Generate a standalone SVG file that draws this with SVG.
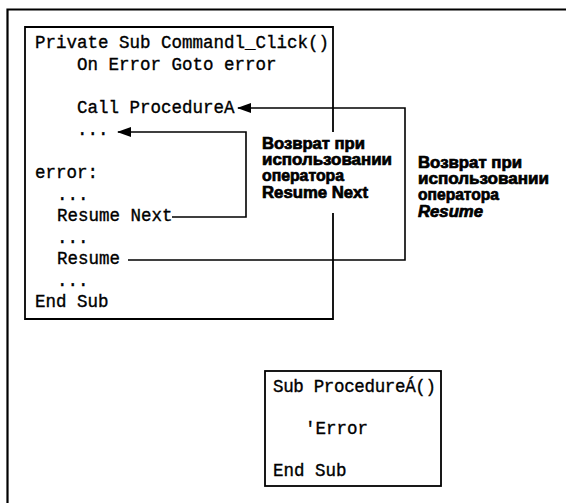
<svg xmlns="http://www.w3.org/2000/svg" width="566" height="503" viewBox="0 0 566 503">
<defs>
<marker id="ah" markerWidth="14" markerHeight="10" refX="13" refY="5" orient="auto" markerUnits="userSpaceOnUse">
<path d="M0,0 L14,5 L0,10 Z" fill="#000"/>
</marker>
<style>
.code{font-family:"Liberation Mono","Courier New",monospace;font-size:17.5px;fill:#000;stroke:#000;stroke-width:0.35}
.note{font-family:"Liberation Sans",Arial,sans-serif;font-size:16px;font-weight:bold;fill:#000;stroke:#000;stroke-width:0.7}
.box{fill:none;stroke:#000;stroke-width:1.8}
.conn{fill:none;stroke:#000;stroke-width:1.6}
</style>
</defs>
<rect width="566" height="503" fill="#fff"/>
<g id="frame"><path d="M7.5,503 V9.5 H566" fill="none" stroke="#000" stroke-width="2.2"/></g>
<g id="main">
<path class="box" d="M333,132 V27 H25 V319 H333 V213"/>
<text class="code" x="35" y="48">Private Sub Commandl_Click()</text>
<text class="code" x="77" y="70">On Error Goto error</text>
<text class="code" x="77" y="113">Call ProcedureA</text>
<text class="code" x="77" y="135">...</text>
<text class="code" x="35" y="178">error:</text>
<text class="code" x="57" y="200">...</text>
<text class="code" x="57" y="221">Resume Next</text>
<text class="code" x="57" y="243">...</text>
<text class="code" x="57" y="264">Resume</text>
<text class="code" x="57" y="286">...</text>
<text class="code" x="35" y="307">End Sub</text>
</g>
<g id="procA">
<rect class="box" x="265" y="371" width="176" height="115"/>
<text class="code" x="273" y="392" textLength="163">Sub ProcedureÁ()</text>
<text class="code" x="305" y="434">'Error</text>
<text class="code" x="273" y="476">End Sub</text>
</g>
<g id="connectors">
<path class="conn" d="M172,217 H246 V132 H118" marker-end="url(#ah)"/>
<path class="conn" d="M128,260 H405 V108 H238" marker-end="url(#ah)"/>
</g>
<g id="note1">
<text class="note" x="262" y="149" textLength="103" lengthAdjust="spacingAndGlyphs">Возврат при</text>
<text class="note" x="262" y="165" textLength="130" lengthAdjust="spacingAndGlyphs">использовании</text>
<text class="note" x="262" y="181" textLength="82" lengthAdjust="spacingAndGlyphs">оператора</text>
<text class="note" x="262" y="198" textLength="106" lengthAdjust="spacingAndGlyphs">Resume Next</text>
</g>
<g id="note2">
<text class="note" x="418" y="168" textLength="104" lengthAdjust="spacingAndGlyphs">Возврат при</text>
<text class="note" x="418" y="184" textLength="131" lengthAdjust="spacingAndGlyphs">использовании</text>
<text class="note" x="418" y="200" textLength="81" lengthAdjust="spacingAndGlyphs">оператора</text>
<text class="note" x="418" y="217" textLength="65" lengthAdjust="spacingAndGlyphs" font-style="italic">Resume</text>
</g>
</svg>
